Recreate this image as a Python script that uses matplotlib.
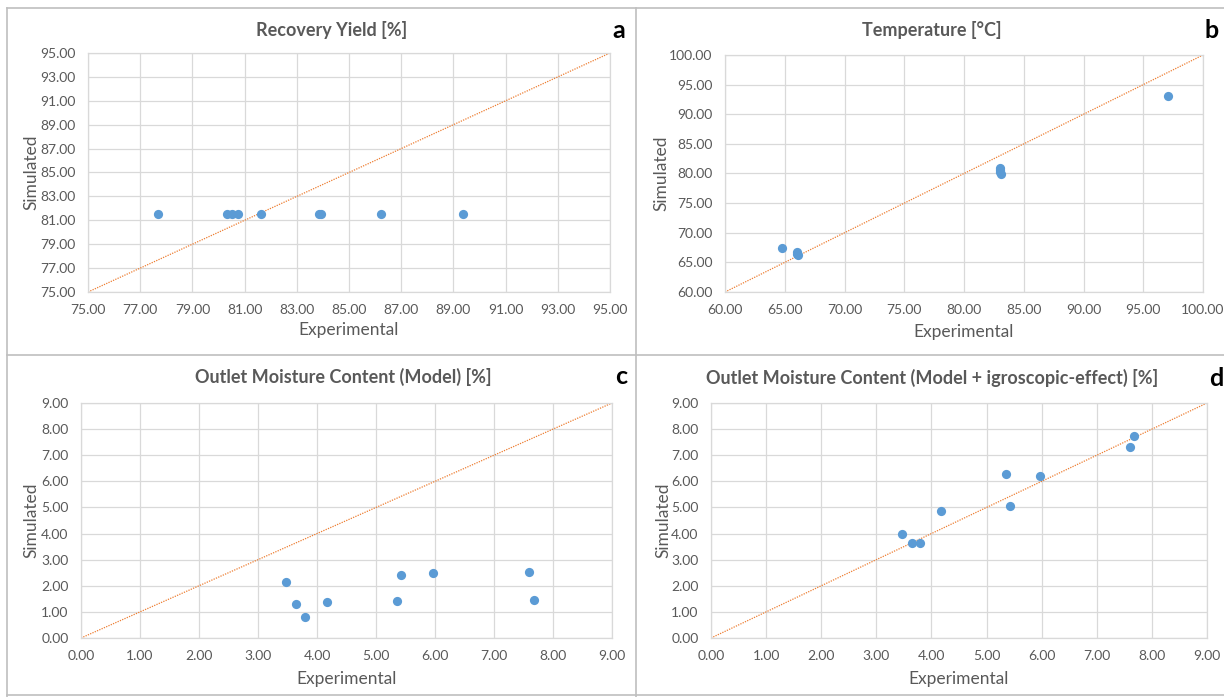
import numpy as np
import matplotlib
matplotlib.use("Agg")
import matplotlib.pyplot as plt
from matplotlib.ticker import FormatStrFormatter
from matplotlib.lines import Line2D

plt.rcParams['font.family'] = ['Lato', 'DejaVu Sans']

# recovery yield [%]
yield_exp = [77.68, 80.32, 80.52, 80.73, 81.63, 83.84, 83.93, 86.22, 89.38]
yield_sim = [81.5, 81.5, 81.5, 81.5, 81.5, 81.5, 81.5, 81.5, 81.5]

# temperature [C]
temp_exp = [64.73, 66.0, 66.05, 66.1, 83.0, 83.04, 83.04, 83.06, 97.05]
temp_sim = [67.42, 66.75, 66.45, 66.25, 80.85, 80.55, 80.25, 79.95, 93.15]

# outlet moisture content [%]
moist_exp = [3.47, 3.65, 3.79, 4.17, 5.36, 5.43, 5.97, 7.60, 7.67]
moist_model = [2.16, 1.31, 0.81, 1.36, 1.41, 2.41, 2.49, 2.53, 1.46]
moist_hygro = [4.00, 3.65, 3.65, 4.85, 6.30, 5.07, 6.21, 7.32, 7.72]

W, H = 1224, 697
GREY = '#595959'
BLUE = '#5B9BD5'
ORANGE = '#ED7D31'
GRID = '#D9D9D9'

fig = plt.figure(figsize=(W / 100, H / 100), dpi=100)


def panel(box, x, y, lo, hi, step, title, letter, title_x, title_y, ylab_x, xlab_y):
    l, t, r, b = box
    ax = fig.add_axes([l / W, 1 - b / H, (r - l) / W, (b - t) / H])
    ax.plot([lo, hi], [lo, hi], ls=(0, (1, 1)), lw=0.9, color=ORANGE, zorder=2)
    ax.scatter(x, y, s=44, color=BLUE, zorder=3, linewidths=0)
    ticks = np.arange(lo, hi + step / 2, step)
    ax.set_xlim(lo, hi)
    ax.set_ylim(lo, hi)
    ax.set_xticks(ticks)
    ax.set_yticks(ticks)
    ax.xaxis.set_major_formatter(FormatStrFormatter('%.2f'))
    ax.yaxis.set_major_formatter(FormatStrFormatter('%.2f'))
    ax.tick_params(length=0, labelsize=10, colors=GREY)
    ax.tick_params(axis='x', pad=9)
    ax.tick_params(axis='y', pad=9)
    ax.grid(True, color=GRID, lw=0.9)
    ax.set_axisbelow(True)
    for s in ax.spines.values():
        s.set_color(GRID)
        s.set_linewidth(0.9)
    ax.set_xlabel('Experimental', fontsize=12.5, color=GREY)
    ax.set_ylabel('Simulated', fontsize=12.5, color=GREY)
    # label anchors sit on the text edge nearest the axes
    ax.xaxis.set_label_coords(0.5, (b - (xlab_y - 9)) / (b - t))
    ax.yaxis.set_label_coords((ylab_x + 9 - l) / (r - l), 0.5)
    fig.text(title_x / W, 1 - title_y / H, title, fontsize=13, fontweight='bold',
             color=GREY, ha='center', va='center')
    fig.text((r + 9) / W, 1 - title_y / H, letter, fontsize=18, fontweight='bold',
             color='black', ha='center', va='center')
    return ax


panel((88, 53, 610, 292), yield_exp, yield_sim, 75, 95, 2,
      'Recovery Yield [%]', 'a', 332, 30, 30, 331)
panel((725, 55, 1203, 292), temp_exp, temp_sim, 60, 100, 5,
      'Temperature [°C]', 'b', 932, 30, 660, 333)
panel((81, 403, 612, 638), moist_exp, moist_model, 0, 9, 1,
      'Outlet Moisture Content (Model) [%]', 'c', 343, 377, 30, 680)
panel((711, 403, 1207, 638), moist_exp, moist_hygro, 0, 9, 1,
      'Outlet Moisture Content (Model + igroscopic-effect) [%]', 'd', 932, 378, 662, 680)

# panel frames
def fline(xs, ys):
    fig.add_artist(Line2D([v / W for v in xs], [1 - v / H for v in ys],
                          color='#BFBFBF', lw=1.2))

fline([7, 7], [8, 697])
fline([7, 1224], [8, 8])
fline([636, 636], [8, 697])
fline([7, 1224], [355, 355])
fline([7, 1224], [695, 695])

fig.savefig('out.png', dpi=100, facecolor='white')
